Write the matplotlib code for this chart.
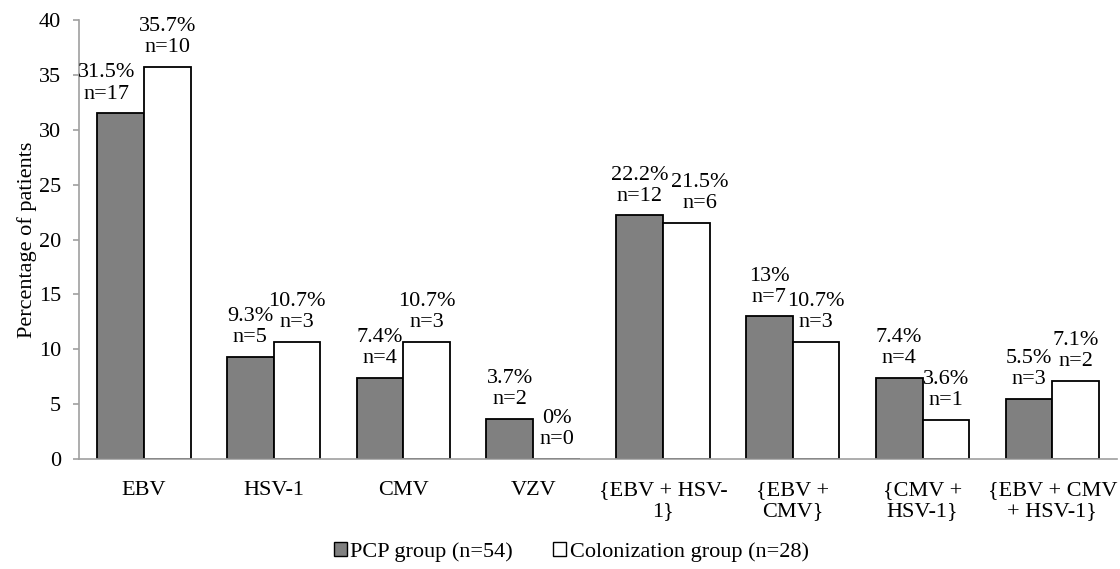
import matplotlib.pyplot as plt
import numpy as np
from matplotlib.patches import Patch

plt.rcParams['font.family'] = ['Liberation Serif', 'DejaVu Serif']

categories = ['EBV', 'HSV-1', 'CMV', 'VZV', '{EBV + HSV-\n1}', '{EBV +\nCMV}',
              '{CMV +\nHSV-1}', '{EBV + CMV\n+ HSV-1}']
pcp_pct = [31.5, 9.3, 7.4, 3.7, 22.2, 13, 7.4, 5.5]
pcp_n = [17, 5, 4, 2, 12, 7, 4, 3]
col_pct = [35.7, 10.7, 10.7, 0, 21.5, 10.7, 3.6, 7.1]
col_n = [10, 3, 3, 0, 6, 3, 1, 2]

x = np.arange(len(categories))
w = 0.36
fs = 16

fig = plt.figure(figsize=(11.2, 5.69), dpi=100)
ax = fig.add_axes([0.0705, 0.193, 0.927, 0.772])

b1 = ax.bar(x - w/2, pcp_pct, w, color='#808080', edgecolor='black', linewidth=1.3)
b2 = ax.bar(x + w/2, col_pct, w, color='white', edgecolor='black', linewidth=1.3)

# labels nudged sideways where they would collide (as in the original)
nudge = {('pcp', 0): -10, ('col', 4): 10}
for key, bars, pcts, ns in [('pcp', b1, pcp_pct, pcp_n), ('col', b2, col_pct, col_n)]:
    for i, (b, p, n) in enumerate(zip(bars, pcts, ns)):
        ax.annotate('%g%%\nn=%d' % (p, n), (b.get_x() + b.get_width()/2, p),
                    xytext=(nudge.get((key, i), 0), 7), textcoords='offset points',
                    ha='center', va='bottom', fontsize=fs, linespacing=1.15)

ax.set_xlim(-0.5, len(categories) - 0.5)
ax.set_ylim(0, 40)
ax.set_yticks(range(0, 41, 5))
ax.set_xticks(x)
ax.set_xticklabels(categories, fontsize=fs, linespacing=1.15)
ax.tick_params(axis='x', length=0, pad=16)
ax.tick_params(axis='y', labelsize=fs, length=4.5, width=1.2, pad=8.5,
               color='#a0a0a0', direction='out')
ax.set_ylabel('Percentage of patients', fontsize=fs)
ax.yaxis.set_label_coords(-0.04, 0.5)

for s in ['top', 'right']:
    ax.spines[s].set_visible(False)
for s in ['left', 'bottom']:
    ax.spines[s].set_color('#a0a0a0')
    ax.spines[s].set_linewidth(1.2)

handles = [Patch(facecolor='#808080', edgecolor='black', label='PCP group (n=54)'),
           Patch(facecolor='white', edgecolor='black', label='Colonization group (n=28)')]
fig.legend(handles=handles, loc='center', bbox_to_anchor=(0.51, 0.03), ncol=2,
           frameon=False, fontsize=fs, handlelength=0.6, handleheight=0.6,
           handletextpad=0.15, columnspacing=1.8)

plt.savefig('out.png', dpi=100)
